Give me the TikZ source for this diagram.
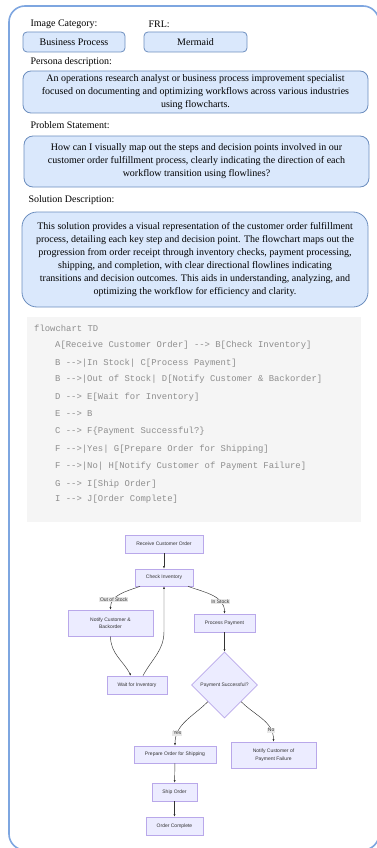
\documentclass[tikz,border=0pt]{standalone}
\usepackage{fontspec}
\setmainfont{Liberation Serif}
\setsansfont{Liberation Sans}
\setmonofont{Liberation Mono}
\usetikzlibrary{arrows.meta}
\usetikzlibrary{shapes.geometric}

\definecolor{framec}{HTML}{7EA6E0}
\definecolor{infofill}{HTML}{DAE8FC}
\definecolor{infodraw}{HTML}{6C8EBF}
\definecolor{codebg}{HTML}{F5F5F5}
\definecolor{codetext}{HTML}{8E8E8E}
\definecolor{mmfill}{HTML}{ECECFF}
\definecolor{mmdraw}{HTML}{B9A8EA}
\definecolor{mmline}{HTML}{333333}
\definecolor{mmlabel}{HTML}{E8E8E8}

\tikzset{
heading/.style={anchor=west, font=\fontsize{10}{12}\selectfont},
infobox/.style={draw=infodraw, fill=infofill, line width=0.8pt, align=center,
  font=\fontsize{10}{13}\selectfont, inner sep=0pt},
codeline/.style={anchor=west, text=codetext, font=\ttfamily\fontsize{8.9}{10}\selectfont, inner sep=0pt},
proc/.style={draw=mmdraw, fill=mmfill, line width=0.7pt, align=center,
  font=\sffamily\fontsize{5}{7.5}\selectfont, text=mmline, inner sep=0pt},
decide/.style={proc, diamond, aspect=1, minimum width=66pt, minimum height=66pt},
flow/.style={draw=mmline, line width=0.45pt, -{Latex[length=2.5pt,width=2pt]}},
elabel/.style={fill=mmlabel, text=mmline, font=\sffamily\fontsize{5}{6}\selectfont, inner sep=0.8pt}
}

\begin{document}
\begin{tikzpicture}[x=1pt,y=1pt]
    \useasboundingbox (0,0) rectangle (377,-848);
    \clip (0,0) rectangle (377,-848);

    % outer frame
    \draw[framec, line width=1.6pt, rounded corners=16pt] (9,-6) rectangle (379,-850);

    % header boxes
    \node[heading] (catlbl) at (27,-24) {Image Category:};
    \node[heading] (frllbl) at (145,-24) {FRL:};
    \node[infobox, rounded corners=4pt, minimum width=102pt, minimum height=20pt] (cat) at (74,-42) {Business Process};
    \node[infobox, rounded corners=4pt, minimum width=103pt, minimum height=20pt] (frl) at (195.5,-42) {Mermaid};

    \node[heading] (perlbl) at (27,-62) {Persona description:};
    \node[infobox, rounded corners=8pt, minimum width=345pt, minimum height=42pt] (persona) at (195.5,-92)
        {An operations research analyst or business process improvement specialist\\
         focused on documenting and optimizing workflows across various industries\\
         using flowcharts.};

    \node[heading] (problbl) at (27,-125) {Problem Statement:};
    \node[infobox, rounded corners=9pt, minimum width=345pt, minimum height=51pt] (problem) at (196.5,-161.5)
        {How can I visually map out the steps and decision points involved in our\\
         customer order fulfillment process, clearly indicating the direction of each\\
         workflow transition using flowlines?};

    \node[heading] (sollbl) at (25,-200) {Solution Description:};
    \node[infobox, rounded corners=15pt, minimum width=346pt, minimum height=95pt] (solution) at (195,-259.5)
        {This solution provides a visual representation of the customer order fulfillment\\
         process, detailing each key step and decision point. The flowchart maps out the\\
         progression from order receipt through inventory checks, payment processing,\\
         shipping, and completion, with clear directional flowlines indicating\\
         transitions and decision outcomes. This aids in understanding, analyzing, and\\
         optimizing the workflow for efficiency and clarity.};

    % code block
    \fill[codebg] (27,-317) rectangle (361,-522);
    \node[codeline] (c0) at (34,-328) {flowchart TD};
    \node[codeline] (c1) at (55,-345) {A[Receive Customer Order] --> B[Check Inventory]};
    \node[codeline] (c2) at (55,-363) {B -->|In Stock| C[Process Payment]};
    \node[codeline] (c3) at (55,-379) {B -->|Out of Stock| D[Notify Customer \& Backorder]};
    \node[codeline] (c4) at (55,-397) {D --> E[Wait for Inventory]};
    \node[codeline] (c5) at (55,-414) {E --> B};
    \node[codeline] (c6) at (55,-431) {C --> F\{Payment Successful?\}};
    \node[codeline] (c7) at (55,-449) {F -->|Yes| G[Prepare Order for Shipping]};
    \node[codeline] (c8) at (55,-466) {F -->|No| H[Notify Customer of Payment Failure]};
    \node[codeline] (c9) at (55,-484) {G --> I[Ship Order]};
    \node[codeline] (c10) at (55,-499) {I --> J[Order Complete]};

    % flowchart
    \node[proc, minimum width=78pt, minimum height=18pt] (A) at (164,-544) {Receive Customer Order};
    \node[proc, minimum width=58pt, minimum height=17pt] (B) at (164,-577.5) {Check Inventory};
    \node[proc, minimum width=85pt, minimum height=26pt] (D) at (110.5,-623) {Notify Customer \&\\Backorder};
    \node[proc, minimum width=61pt, minimum height=18pt] (C) at (224.5,-623) {Process Payment};
    \node[proc, minimum width=60pt, minimum height=18pt] (E) at (137,-685) {Wait for Inventory};
    \node[decide] (F) at (224.5,-685) {Payment Successful?};
    \node[proc, minimum width=82pt, minimum height=17pt] (G) at (175,-754.5) {Prepare Order for Shipping};
    \node[proc, minimum width=85pt, minimum height=26pt] (H) at (273.5,-755) {Notify Customer of\\Payment Failure};
    \node[proc, minimum width=45pt, minimum height=18pt] (I) at (174.5,-792) {Ship Order};
    \node[proc, minimum width=57pt, minimum height=18pt] (J) at (174.5,-826) {Order Complete};

    \draw[flow] (A) -- (B);
    \draw[flow] ([xshift=-24pt]B.south) to[out=200,in=90] node[elabel, pos=0.72] {Out of Stock} (D.north);
    \draw[flow] ([xshift=24pt]B.south) to[out=-20,in=90] node[elabel, pos=0.72] {In Stock} (C.north);
    \draw[flow] (D.south) to[out=-90,in=118] ([xshift=-6pt]E.north);
    \draw[flow] ([xshift=6pt]E.north) to[out=62,in=-90] ([yshift=-45pt]B.south) -- (B.south);
    \draw[flow] (C) -- (F);
    \draw[flow] (F.south west) to[out=225,in=90] node[elabel, pos=0.78] {Yes} (G.north);
    \draw[flow] (F.south east) to[out=-45,in=90] node[elabel, pos=0.78] {No} (H.north);
    \draw[flow] (G) -- (I);
    \draw[flow] (I) -- (J);
\end{tikzpicture}
\end{document}
